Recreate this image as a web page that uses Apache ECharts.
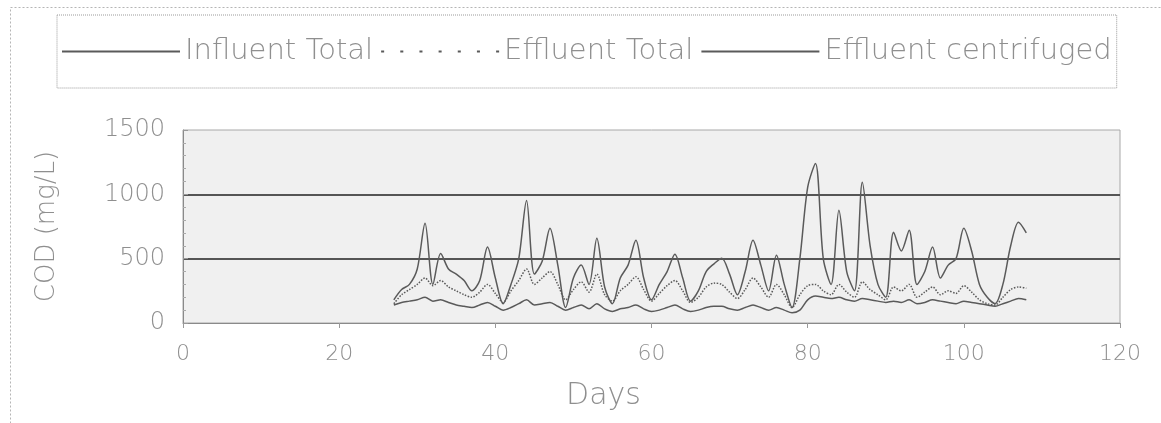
<!DOCTYPE html>
<html>
<head>
<meta charset="utf-8">
<script src="https://cdn.jsdelivr.net/npm/echarts@6/dist/echarts.min.js"></script>
<style>
    html, body { margin: 0; padding: 0; background: #fff; }
    #chart { width: 1161px; height: 423px; }
</style>
</head>
<body>
<div id="chart"></div>
<script>
// days with a reading
const days = [
    27, 28, 29, 30, 31, 32, 33, 34, 35, 36, 37, 38, 39, 40, 41, 42, 43, 44, 45, 46,
    47, 48, 49, 50, 51, 52, 53, 54, 55, 56, 57, 58, 59, 60, 61, 62, 63, 64, 65, 66,
    67, 68, 69, 70, 71, 72, 73, 74, 75, 76, 77, 78, 79, 80, 81, 82, 83, 84, 85, 86,
    87, 88, 89, 90, 91, 92, 93, 94, 95, 96, 97, 98, 99, 100, 101, 102, 103, 104, 105, 106,
    107, 108,
]

const influentTotal = [
    180, 260, 300, 420, 775, 300, 540, 420, 380, 330, 250, 330, 590, 350, 150, 300, 500, 953, 380, 480,
    736, 450, 120, 350, 450, 300, 659, 280, 150, 350, 450, 643, 350, 180, 300, 400, 535, 350, 170, 250,
    400, 460, 504, 380, 220, 400, 643, 450, 250, 527, 300, 120, 500, 1054, 1240, 500, 300, 876, 400, 250,
    1093, 600, 300, 200, 705, 560, 721, 300, 400, 590, 350, 450, 500, 736, 560, 300, 200, 150, 300, 600,
    783, 700,
]

const effluentTotal = [
    150, 220, 260, 300, 350, 290, 330, 280, 250, 220, 200, 240, 300, 230, 160, 250, 330, 420, 300, 350,
    400, 300, 180, 260, 320, 240, 380, 220, 170, 250, 300, 360, 260, 170, 230, 290, 330, 250, 160, 200,
    280, 310, 300, 240, 190, 260, 350, 280, 200, 300, 220, 120, 220, 290, 300, 250, 220, 300, 240, 200,
    320, 260, 220, 180, 280, 250, 300, 200, 240, 280, 220, 250, 230, 290, 240, 180, 150, 140, 200, 260,
    280, 270,
]

const effluentCentrifuged = [
    140, 160, 170, 180, 200, 170, 180, 160, 140, 130, 120, 140, 160, 130, 100, 120, 150, 180, 140, 150,
    160, 130, 100, 120, 140, 110, 150, 110, 90, 110, 120, 140, 110, 90, 100, 120, 140, 110, 90, 100,
    120, 130, 130, 110, 100, 120, 140, 120, 100, 120, 100, 80, 100, 180, 210, 200, 190, 200, 180, 170,
    190, 180, 170, 160, 170, 160, 180, 150, 160, 180, 170, 160, 150, 170, 160, 150, 140, 130, 150, 170,
    190, 180,
]

const xTicks = [0, 20, 40, 60, 80, 100, 120]
const yTicks = [0, 500, 1000, 1500]

const pairs = values => days.map((day, i) => [day, values[i]])

const textColor = '#8f8f8f'
const lineColor = '#5a5a5a'
const fontFamily = '"DejaVu Sans", Verdana, sans-serif'

// legend icons: plain line for solid series, row of dots for the dotted one
const solidIcon = 'rect'
const dottedIcon = 'path://M0,0h3v3h-3z M19,0h3v3h-3z M38,0h3v3h-3z M57,0h3v3h-3z M76,0h3v3h-3z M95,0h3v3h-3z M114,0h3v3h-3z'

const chart = echarts.init(document.getElementById('chart'), null, { renderer: 'canvas' })

chart.setOption({
    animation: false,
    backgroundColor: '#ffffff',
    graphic: [
        {
            type: 'rect',
            left: 8,
            top: 5,
            shape: { width: 1170, height: 440 },
            style: { fill: 'none', stroke: '#b5b5b5', lineWidth: 1, lineDash: [2, 2] },
            silent: true,
        },
    ],
    legend: {
        left: 57,
        top: 15,
        padding: [22, 5, 22, 5],
        borderColor: '#9a9a9a',
        borderWidth: 1,
        borderType: 'dotted',
        itemWidth: 118,
        itemHeight: 2,
        itemGap: 8,
        symbolKeepAspect: false,
        textStyle: {
            color: textColor,
            fontSize: 29,
            fontWeight: 200,
            fontFamily,
        },
        data: [
            { name: 'Influent Total', icon: solidIcon },
            { name: 'Effluent Total', icon: dottedIcon },
            { name: 'Effluent centrifuged', icon: solidIcon },
        ],
    },
    grid: {
        left: 183,
        right: 41,
        top: 130,
        bottom: 100,
        show: true,
        backgroundColor: '#f0f0f0',
        borderColor: '#a8a8a8',
        borderWidth: 1,
    },
    xAxis: {
        type: 'value',
        min: xTicks[0],
        max: xTicks[xTicks.length - 1],
        interval: 20,
        name: 'Days',
        nameLocation: 'middle',
        nameGap: 58,
        nameTextStyle: {
            color: textColor,
            fontSize: 30,
            fontWeight: 200,
            fontFamily,
            padding: [0, 96, 0, 0],
        },
        axisLine: { lineStyle: { color: '#8a8a8a', width: 1 } },
        axisTick: { show: true, length: 5, lineStyle: { color: '#999' } },
        axisLabel: {
            color: textColor,
            fontSize: 22,
            fontWeight: 200,
            fontFamily,
            margin: 20,
        },
        splitLine: { show: false },
    },
    yAxis: {
        type: 'value',
        min: yTicks[0],
        max: yTicks[yTicks.length - 1],
        interval: 500,
        name: 'COD (mg/L)',
        nameLocation: 'middle',
        nameGap: 123,
        nameRotate: 90,
        nameTextStyle: { color: textColor, fontSize: 26, fontWeight: 200, fontFamily },
        axisLine: { show: true, lineStyle: { color: '#8a8a8a', width: 1 } },
        axisTick: { show: true, inside: true, length: 5, lineStyle: { color: '#999' } },
        minorTick: { show: true, splitNumber: 5, length: 3, lineStyle: { color: '#aaa' } },
        axisLabel: {
            color: textColor,
            fontSize: 24,
            fontWeight: 200,
            fontFamily,
            margin: 18,
            formatter: value => String(value),
        },
        splitLine: {
            show: true,
            showMinLine: false,
            showMaxLine: false,
            lineStyle: { color: '#555', width: 2 },
        },
    },
    series: [
        {
            name: 'Influent Total',
            type: 'line',
            symbol: 'none',
            smooth: 0.3,
            data: pairs(influentTotal),
            lineStyle: { color: lineColor, width: 1.5 },
            itemStyle: { color: lineColor },
        },
        {
            name: 'Effluent Total',
            type: 'line',
            symbol: 'none',
            smooth: 0.3,
            data: pairs(effluentTotal),
            lineStyle: { color: lineColor, width: 1.5, type: 'dotted' },
            itemStyle: { color: lineColor },
        },
        {
            name: 'Effluent centrifuged',
            type: 'line',
            symbol: 'none',
            smooth: 0.3,
            data: pairs(effluentCentrifuged),
            lineStyle: { color: lineColor, width: 1.5 },
            itemStyle: { color: lineColor },
        },
    ],
})
</script>
</body>
</html>
